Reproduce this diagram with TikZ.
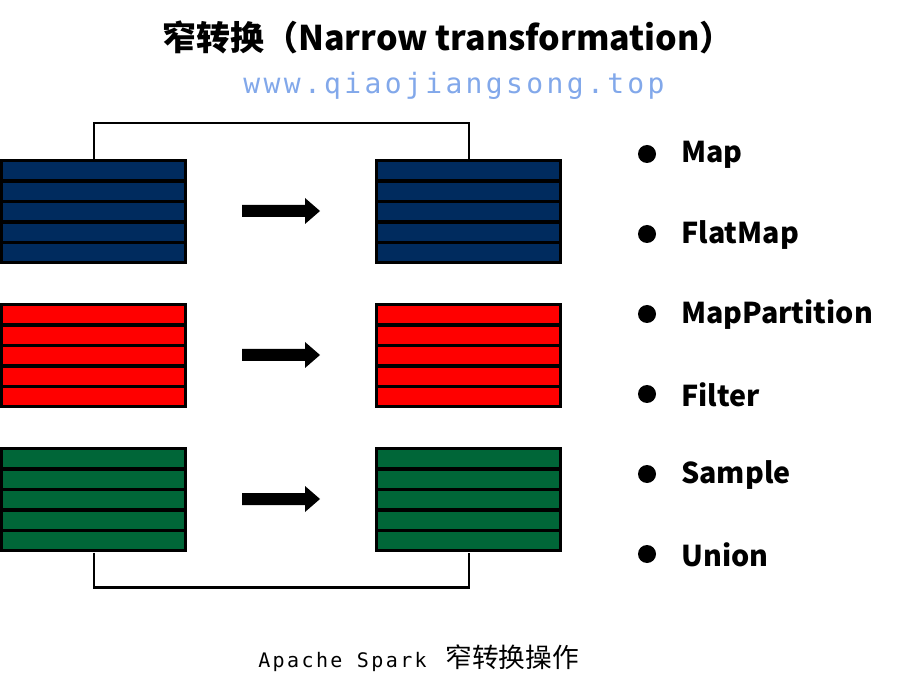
\documentclass[tikz,border=0pt]{standalone}
\usepackage{fontspec}
\setmainfont{Noto Sans CJK SC}
\newfontfamily\cjk{Noto Sans CJK SC}
\newfontfamily\wmfont[LetterSpace=12]{DejaVu Sans Mono}
\newfontfamily\capfont[LetterSpace=12]{DejaVu Sans Mono}
\definecolor{rddblue}{RGB}{0,43,94}
\definecolor{rddred}{RGB}{255,0,0}
\definecolor{rddgreen}{RGB}{0,102,56}
\definecolor{wmblue}{RGB}{130,168,234}
\newcommand\rddblock[4]{%
  % #1 name, #2 left x, #3 top y, #4 colour
  \node[blockbox,anchor=north west] (#1) at (#2,#3) {};
  \foreach \k in {0,...,4}{
    \fill[#4] ({#2+3},{#3+3+\k*20.6}) rectangle ({#2+184},{#3+3+\k*20.6+17});
  }
}
\tikzset{
  blockbox/.style={fill=black,inner sep=0pt,minimum width=140.25pt,minimum height=78.75pt},
  link/.style={draw=black,line width=1.8pt},
  bullet/.style={circle,fill=black,inner sep=0pt,minimum size=13.5pt},
  item/.style={anchor=west,font=\fontsize{21.5}{26}\selectfont\bfseries,inner sep=0pt},
  fatarrow/.style={fill=black}
}
\begin{document}
\begin{tikzpicture}[x=0.75pt,y=-0.75pt]
\useasboundingbox (0,0) rectangle (910,691);
% title
\node[font=\fontsize{25.5}{30}\selectfont\bfseries,inner sep=0pt] (title) at (448,37) {窄转换（Narrow transformation）};
\node[font=\wmfont\fontsize{21}{26}\selectfont,text=wmblue,inner sep=0pt] (wm) at (454,86) {www.qiaojiangsong.top};
% blocks
\rddblock{b1}{0}{159}{rddblue}
\rddblock{b2}{375}{159}{rddblue}
\rddblock{r1}{0}{303}{rddred}
\rddblock{r2}{375}{303}{rddred}
\rddblock{g1}{0}{447}{rddgreen}
\rddblock{g2}{375}{447}{rddgreen}
% connectors
\draw[link] (b1.north) -- ++(0,-36) -| (b2.north);
\draw[link] (g1.south) -- ++(0,35) -| (g2.south);
% arrows
\foreach \yy/\nm in {211/a1,355/a2,499/a3}{
  \coordinate (\nm) at (242,\yy);
  \fill[fatarrow] (\nm) ++(0,-6) -- ++(63,0) -- ++(0,-7) -- ++(15,13) -- ++(-15,13) -- ++(0,-7) -- ++(-63,0) -- cycle;
}
% list
\foreach \t [count=\i from 0] in {Map,FlatMap,MapPartition,Filter,Sample,Union}{
  \node[bullet] (d\i) at (647,{154+\i*80}) {};
  \node[item] (l\i) at (681,{155+\i*80}) {\t};
}
% caption
\node[inner sep=0pt,anchor=west] (cap) at (258,658) {\capfont\fontsize{15}{18}\selectfont Apache Spark\hspace{14pt}\cjk\fontsize{20}{22}\selectfont 窄转换操作};
\end{tikzpicture}
\end{document}
